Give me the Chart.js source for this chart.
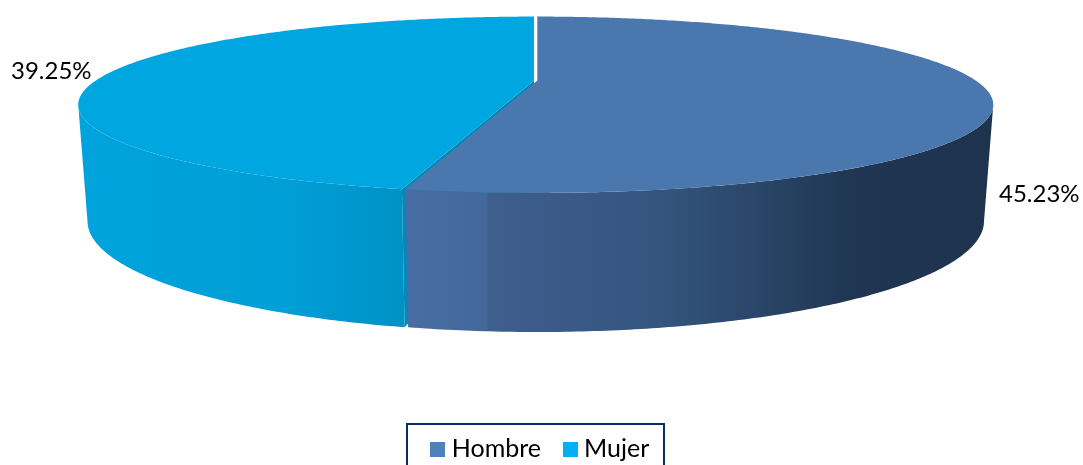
<!DOCTYPE html>
<html><head><meta charset="utf-8">
<script src="https://cdn.jsdelivr.net/npm/chart.js@4"></script>
<style>html,body{margin:0;padding:0;background:#fff;overflow:hidden}canvas{display:block}</style>
</head><body><canvas id="c" width="1083" height="465"></canvas>
<script>
const categories = ['Hombre', 'Mujer'];
const values = [45.23, 39.25];
const valueLabels = ['45.23%', '39.25%'];
const legendColors = ['#4f81bd', '#00b0f0'];
const topColors = ['#4a78ae', '#00a6df'];
const FONT = 'Lato, Carlito, sans-serif';

// perspective model of the pie: unit circle -> screen
const topDisc = {cx: 536, cy: 80.5, R: 438.2, r: 81.5, k: 0.275};
const baseDisc = {cx: 536, cy: 190.5, R: 429.3, r: 102.6, k: 0.275};
const sliceShift = [1.5, -2];

function project(d, shift, a, rad) {
  const u = Math.cos(a) * rad, v = Math.sin(a) * rad, w = 1 - d.k * v;
  return [d.cx + shift + d.R * u / w, d.cy + d.r * v / w];
}
function rim(d, shift, a0, a1) {
  const n = Math.max(2, Math.ceil(Math.abs(a1 - a0) / 0.01)), p = [];
  for (let i = 0; i <= n; i++) p.push(project(d, shift, a0 + (a1 - a0) * i / n, 1));
  return p;
}
function fillPoly(ctx, pts, fill) {
  ctx.beginPath();
  pts.forEach((q, i) => i ? ctx.lineTo(q[0], q[1]) : ctx.moveTo(q[0], q[1]));
  ctx.closePath();
  ctx.fillStyle = fill;
  ctx.fill();
}
function hGrad(ctx, x0, x1, stops) {
  const g = ctx.createLinearGradient(x0, 0, x1, 0);
  stops.forEach(s => g.addColorStop(s[0], s[1]));
  return g;
}
const pie3d = {
  id: 'pie3d',
  beforeDatasetDraw(chart) {
    const ctx = chart.ctx, arcs = chart.getDatasetMeta(0).data;
    const H = arcs[0], M = arcs[1];
    const hs = sliceShift[0], ms = sliceShift[1];
    const side = Math.asin(topDisc.k);
    ctx.save();
    // Mujer outer wall: visible from the cut round to the left extreme
    const mTop = rim(topDisc, ms, M.startAngle, Math.PI - side);
    const mBase = rim(baseDisc, ms, M.startAngle, Math.PI - side);
    fillPoly(ctx, mTop.concat(mBase.slice().reverse()),
      hGrad(ctx, 88, 408, [[0, '#00a3dc'], [0.6, '#009fd8'], [1, '#0091c4']]));
    // Mujer cut face
    const mA = project(topDisc, ms, 0, 0), mB = project(baseDisc, ms, 0, 0);
    const mC = project(topDisc, ms, M.startAngle, 1), mD = project(baseDisc, ms, M.startAngle, 1);
    fillPoly(ctx, [mA, mC, mD, mB], '#0089ba');
    // Mujer top
    fillPoly(ctx, [mA].concat(rim(topDisc, ms, M.startAngle, M.endAngle)), topColors[1]);
    // Hombre outer wall
    const hTop = rim(topDisc, hs, side, H.endAngle);
    const hBase = rim(baseDisc, hs, side, H.endAngle);
    fillPoly(ctx, hTop.concat(hBase.slice().reverse()),
      hGrad(ctx, 408, 985, [[0, '#486da5'], [0.135, '#446899'], [0.14, '#3e5f8e'], [0.45, '#33547d'], [0.78, '#1f3551'], [1, '#1e334e']]));
    // Hombre start edge
    const hA = project(topDisc, hs, 0, 0), hS = project(topDisc, hs, H.startAngle, 1);
    ctx.strokeStyle = '#5d7da6'; ctx.lineWidth = 1;
    // Hombre top
    fillPoly(ctx, [hA].concat(rim(topDisc, hs, H.startAngle, H.endAngle)), topColors[0]);
    ctx.beginPath(); ctx.moveTo(hS[0] + .5, hS[1]); ctx.lineTo(hA[0] + .5, hA[1]); ctx.stroke();
    ctx.restore();
    return false;
  },
  afterDraw(chart) {
    const ctx = chart.ctx;
    ctx.save();
    ctx.font = '24px ' + FONT;
    ctx.fillStyle = '#000';
    ctx.textBaseline = 'alphabetic';
    ctx.textAlign = 'left';
    ctx.fillText(valueLabels[0], 999, 202);
    ctx.fillText(valueLabels[1], 11, 79);
    // legend frame, running past the bottom of the picture
    ctx.strokeStyle = '#0b2a6e';
    ctx.lineWidth = 2;
    ctx.strokeRect(407, 424, 257, 60);
    ctx.restore();
  }
};
function swatch(color) {
  const c = document.createElement('canvas');
  c.width = 15; c.height = 15;
  const x = c.getContext('2d'); x.fillStyle = color; x.fillRect(0, 0, 15, 15);
  return c;
}
new Chart(document.getElementById('c'), {
  type: 'pie',
  data: {labels: categories, datasets: [{data: values, backgroundColor: legendColors, borderWidth: 0}]},
  plugins: [pie3d],
  options: {
    responsive: false,
    animation: false,
    layout: {padding: {bottom: -6.5, right: -2.5}},
    plugins: {
      tooltip: {enabled: false},
      legend: {
        position: 'bottom',
        labels: {
          usePointStyle: true, pointStyleWidth: 3, padding: 27.5, color: '#000',
          font: {family: FONT, size: 25},
          generateLabels(chart) {
            return Chart.overrides.pie.plugins.legend.labels.generateLabels(chart)
              .map((it, i) => Object.assign(it, {pointStyle: swatch(legendColors[i])}));
          }
        }
      }
    }
  }
});
</script></body></html>
